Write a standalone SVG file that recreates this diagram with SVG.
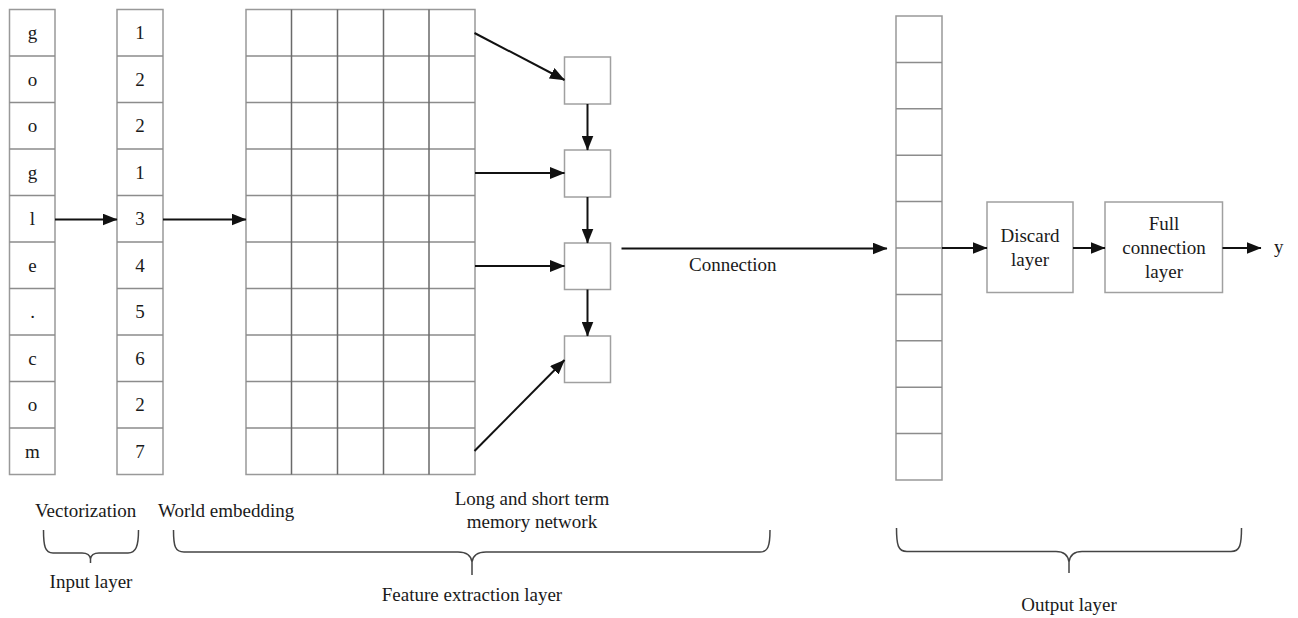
<svg xmlns="http://www.w3.org/2000/svg" width="1298" height="618" viewBox="0 0 1298 618">
  <style>
    text { font-family: "Liberation Serif", "Times New Roman", serif; font-size: 19px; fill: #1a1a1a; }
    .mid { text-anchor: middle; }
    .cell { fill: #fff; stroke: #999; stroke-width: 1.5; }
    .sep { stroke: #8c8c8c; stroke-width: 1.5; }
    .gv { stroke: #6a6a6a; stroke-width: 1.5; }
    .gh { stroke: #8c8c8c; stroke-width: 1.5; }
    .box { fill: #fff; stroke: #a0a0a0; stroke-width: 1.5; }
    .wire { fill: none; stroke: #111; stroke-width: 2; marker-end: url(#arrow); }
    .brace { fill: none; stroke: #444; stroke-width: 1.5; }
  </style>
  <defs>
    <marker id="arrow" markerUnits="userSpaceOnUse" markerWidth="15" markerHeight="12" viewBox="0 0 15 12" refX="14.5" refY="6" orient="auto">
      <path d="M0,0 L15,6 L0,12 Z" fill="#111"/>
    </marker>
  </defs>

  <!-- characters of the domain name -->
  <g id="chars">
    <rect class="cell" x="9.5" y="9.5" width="45.5" height="465"/>
    <path class="sep" d="M9.5,56H55M9.5,102.5H55M9.5,149H55M9.5,195.5H55M9.5,242H55M9.5,288.5H55M9.5,335H55M9.5,381.5H55M9.5,428H55"/>
    <text class="mid" x="32.5" y="39">g</text>
    <text class="mid" x="32.5" y="86">o</text>
    <text class="mid" x="32.5" y="132">o</text>
    <text class="mid" x="32.5" y="179">g</text>
    <text class="mid" x="32.5" y="225">l</text>
    <text class="mid" x="32.5" y="272">e</text>
    <text class="mid" x="32.5" y="318">.</text>
    <text class="mid" x="32.5" y="365">c</text>
    <text class="mid" x="32.5" y="411">o</text>
    <text class="mid" x="32.5" y="458">m</text>
  </g>

  <!-- integer indices -->
  <g id="indices">
    <rect class="cell" x="117" y="9.5" width="46" height="465"/>
    <path class="sep" d="M117,56H163M117,102.5H163M117,149H163M117,195.5H163M117,242H163M117,288.5H163M117,335H163M117,381.5H163M117,428H163"/>
    <text class="mid" x="140" y="39">1</text>
    <text class="mid" x="140" y="86">2</text>
    <text class="mid" x="140" y="132">2</text>
    <text class="mid" x="140" y="179">1</text>
    <text class="mid" x="140" y="225">3</text>
    <text class="mid" x="140" y="272">4</text>
    <text class="mid" x="140" y="318">5</text>
    <text class="mid" x="140" y="365">6</text>
    <text class="mid" x="140" y="411">2</text>
    <text class="mid" x="140" y="458">7</text>
  </g>

  <!-- embedding matrix -->
  <g id="embedding">
    <rect class="cell" x="246" y="9.5" width="229" height="465" stroke="#aaa"/>
    <path class="gh" d="M246,56H475M246,102.5H475M246,149H475M246,195.5H475M246,242H475M246,288.5H475M246,335H475M246,381.5H475M246,428H475"/>
    <path class="gv" d="M291.5,9.5V474.5M337.5,9.5V474.5M383.5,9.5V474.5M429,9.5V474.5"/>
  </g>

  <!-- LSTM cells -->
  <g id="lstm1"><rect class="box" x="564.5" y="57" width="46" height="47"/></g>
  <g id="lstm2"><rect class="box" x="564.5" y="150" width="46" height="47"/></g>
  <g id="lstm3"><rect class="box" x="564.5" y="243" width="46" height="46.5"/></g>
  <g id="lstm4"><rect class="box" x="564.5" y="336" width="46" height="46.5"/></g>

  <!-- concatenated feature vector -->
  <g id="concat">
    <rect class="cell" x="896" y="16" width="46" height="464" stroke="#aaa"/>
    <path class="sep" d="M896,62.4H942M896,108.8H942M896,155.2H942M896,201.6H942M896,248H942M896,294.4H942M896,340.8H942M896,387.2H942M896,433.6H942" stroke="#999"/>
  </g>

  <g id="dropout">
    <rect class="box" x="987" y="202" width="86" height="90.5"/>
    <text class="mid" x="1030" y="242">Discard</text>
    <text class="mid" x="1030" y="266">layer</text>
  </g>

  <g id="dense">
    <rect class="box" x="1105" y="202" width="117.5" height="90.5"/>
    <text class="mid" x="1164" y="230">Full</text>
    <text class="mid" x="1164" y="254">connection</text>
    <text class="mid" x="1164" y="278">layer</text>
  </g>

  <g id="output">
    <text x="1274" y="253">y</text>
  </g>

  <!-- connectors -->
  <g id="connectors">
    <path class="wire" d="M55,219.5H117"/>
    <path class="wire" d="M163,219.5H246"/>
    <path class="wire" d="M474.5,33L564.5,80"/>
    <path class="wire" d="M475,173H564.5"/>
    <path class="wire" d="M475,266H564.5"/>
    <path class="wire" d="M474.5,451L564.5,360"/>
    <path class="wire" d="M587.5,104V150"/>
    <path class="wire" d="M587.5,197V243"/>
    <path class="wire" d="M587.5,289.5V336"/>
    <path class="wire" d="M621.5,248.5H887"/>
    <path class="wire" d="M942,248H987"/>
    <path class="wire" d="M1073,248H1105"/>
    <path class="wire" d="M1222.5,248H1261"/>
    <text x="689" y="271">Connection</text>
  </g>

  <!-- stage labels -->
  <g id="labels">
    <text x="35" y="517">Vectorization</text>
    <text x="158" y="517">World embedding</text>
    <text class="mid" x="532" y="505">Long and short term</text>
    <text class="mid" x="532" y="528">memory network</text>
  </g>

  <g id="input-layer">
    <path class="brace" d="M43.5,530C43.5,546 45,553 53,553H82C87,553 90,555 90.5,559V563M90.5,559C91,555 94,553 99,553H128C136,553 138.5,546 138.5,530"/>
    <text class="mid" x="91" y="588">Input layer</text>
  </g>

  <g id="feature-layer">
    <path class="brace" d="M173.5,530C173.5,546 175,552 184,552H458C466,552 471,555 472,562V575M472,562C473,555 478,552 486,552H760C768,552 770,546 770,530"/>
    <text class="mid" x="472" y="601">Feature extraction layer</text>
  </g>

  <g id="output-layer">
    <path class="brace" d="M896.5,528C896.5,545 898,551.5 907,551.5H1056C1064,551.5 1068,555 1069,562V573M1069,562C1070,555 1074,551.5 1082,551.5H1231C1240,551.5 1241.5,545 1241.5,528"/>
    <text class="mid" x="1069" y="611">Output layer</text>
  </g>
</svg>
